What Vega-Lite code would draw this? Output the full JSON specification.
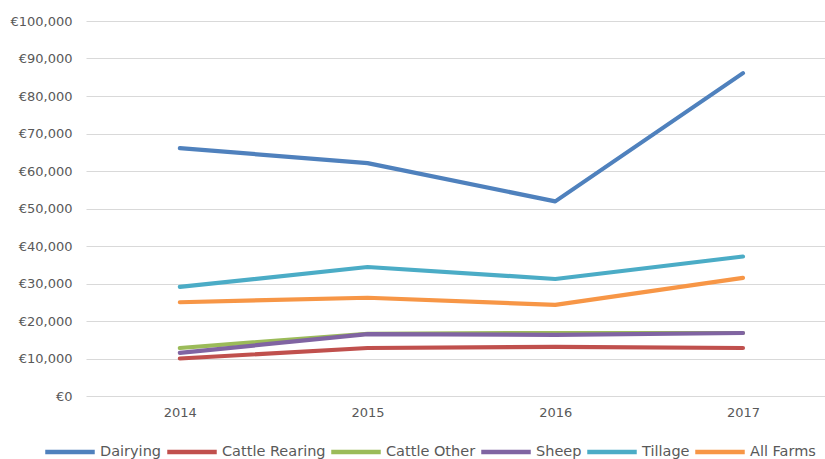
{
  "$schema": "https://vega.github.io/schema/vega-lite/v6.json",
  "autosize": "none",
  "width": 739,
  "height": 375,
  "padding": {"left": 86, "top": 21, "right": 0, "bottom": 63},
  "background": "white",
  "config": {"view": {"stroke": null}, "font": "DejaVu Sans"},
  "data": {"values": [
    {"year": 2014, "type": "Dairying", "income": 66100},
    {"year": 2015, "type": "Dairying", "income": 62100},
    {"year": 2016, "type": "Dairying", "income": 51900},
    {"year": 2017, "type": "Dairying", "income": 86100},
    {"year": 2014, "type": "Cattle Rearing", "income": 10000},
    {"year": 2015, "type": "Cattle Rearing", "income": 12800},
    {"year": 2016, "type": "Cattle Rearing", "income": 13100},
    {"year": 2017, "type": "Cattle Rearing", "income": 12800},
    {"year": 2014, "type": "Cattle Other", "income": 12800},
    {"year": 2015, "type": "Cattle Other", "income": 16600},
    {"year": 2016, "type": "Cattle Other", "income": 16800},
    {"year": 2017, "type": "Cattle Other", "income": 16800},
    {"year": 2014, "type": "Sheep", "income": 11500},
    {"year": 2015, "type": "Sheep", "income": 16500},
    {"year": 2016, "type": "Sheep", "income": 16300},
    {"year": 2017, "type": "Sheep", "income": 16800},
    {"year": 2014, "type": "Tillage", "income": 29100},
    {"year": 2015, "type": "Tillage", "income": 34400},
    {"year": 2016, "type": "Tillage", "income": 31200},
    {"year": 2017, "type": "Tillage", "income": 37200},
    {"year": 2014, "type": "All Farms", "income": 25000},
    {"year": 2015, "type": "All Farms", "income": 26200},
    {"year": 2016, "type": "All Farms", "income": 24300},
    {"year": 2017, "type": "All Farms", "income": 31500}
  ]},
  "mark": {"type": "line", "strokeWidth": 4.2, "strokeCap": "round", "strokeJoin": "round", "clip": false},
  "encoding": {
    "x": {
      "field": "year", "type": "quantitative",
      "scale": {"domain": [2013.5, 2017.437], "nice": false, "zero": false},
      "axis": {"values": [2014, 2015, 2016, 2017], "format": "d", "title": null, "grid": false, "ticks": false, "domain": false, "labelPadding": 10, "labelFontSize": 13, "labelColor": "#595959"}
    },
    "y": {
      "field": "income", "type": "quantitative",
      "scale": {"domain": [0, 100000], "nice": false},
      "axis": {"values": [0, 10000, 20000, 30000, 40000, 50000, 60000, 70000, 80000, 90000, 100000], "labelExpr": "'€' + format(datum.value, ',')", "title": null, "ticks": false, "domain": false, "gridColor": "#d9d9d9", "gridWidth": 1.2, "labelPadding": 14, "labelFontSize": 13, "labelColor": "#595959"}
    },
    "color": {
      "field": "type", "type": "nominal",
      "scale": {
        "domain": ["Dairying", "Cattle Rearing", "Cattle Other", "Sheep", "Tillage", "All Farms"],
        "range": ["#4F81BD", "#C0504D", "#9BBB59", "#8064A2", "#4BACC6", "#F79646"]
      },
      "legend": {"title": null, "orient": "none", "legendX": -43, "legendY": 404, "direction": "horizontal", "symbolType": "stroke", "symbolSize": 2450, "symbolStrokeWidth": 4.5, "labelFontSize": 14.5, "labelColor": "#595959", "labelOffset": 3, "columnPadding": -4, "labelLimit": 300}
    },
    "order": {"field": "type"}
  }
}
